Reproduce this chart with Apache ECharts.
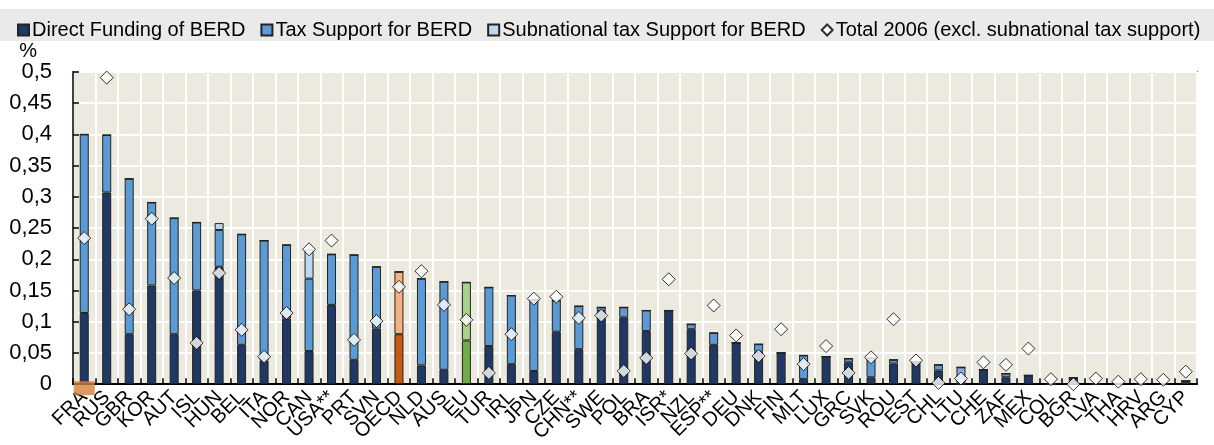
<!DOCTYPE html>
<html>
<head>
<meta charset="utf-8">
<script src="https://cdn.jsdelivr.net/npm/echarts@6/dist/echarts.min.js"></script>
<style>
html, body { margin: 0; padding: 0; background: #fff; }
#chart { width: 1214px; height: 445px; }
</style>
</head>
<body>
<div id="chart"></div>
<script>
var countries = ['FRA','RUS','GBR','KOR','AUT','ISL','HUN','BEL','ITA','NOR','CAN','USA**','PRT','SVN','OECD','NLD','AUS','EU','TUR','IRL','JPN','CZE','CHN**','SWE','POL','BRA','ISR*','NZL','ESP**','DEU','DNK','FIN','MLT','LUX','GRC','SVK','ROU','EST','CHL','LTU','CHE','ZAF','MEX','COL','BGR','LVA','THA','HRV','ARG','CYP'];

var directFunding = [0.114,0.307,0.080,0.158,0.080,0.150,0.188,0.063,0.038,0.105,0.053,0.127,0.039,0.089,0.080,0.030,0.023,0.070,0.061,0.032,0.021,0.084,0.056,0.117,0.107,0.085,0.118,0.088,0.063,0.066,0.052,0.050,0.008,0.044,0.035,0.011,0.033,0.036,0.022,0,0.023,0.011,0.014,0,0.010,0,0,0,0,0.005];

var taxSupport = [0.286,0.092,0.249,0.133,0.186,0.109,0.059,0.177,0.192,0.118,0.116,0.081,0.168,0.099,0.100,0.139,0.141,0.093,0.094,0.110,0.114,0.050,0.069,0.006,0.016,0.033,0,0.008,0.019,0,0.012,0,0.038,0,0.006,0.031,0.006,0,0.009,0.027,0,0.006,0,0,0,0,0,0,0,0];

var subnationalTax = [0,0,0,0,0,0,0.011,0,0,0,0.047,0,0,0,0,0,0,0,0,0,0,0,0,0,0,0,0,0,0,0,0,0,0,0,0,0,0,0,0,0,0,0,0,0,0,0,0,0,0,0];

var total2006 = [0.234,0.491,0.120,0.265,0.170,0.066,0.178,0.087,0.044,0.114,0.216,0.230,0.071,0.101,0.156,0.181,0.127,0.103,0.018,0.080,0.137,0.140,0.106,0.110,0.021,0.042,0.168,0.049,0.126,0.078,0.045,0.088,0.032,0.061,0.018,0.043,0.104,0.038,0.002,0.009,0.035,0.031,0.057,0.008,0.000,0.009,0.004,0.008,0.007,0.020];

var yTicks = [0,0.05,0.1,0.15,0.2,0.25,0.3,0.35,0.4,0.45,0.5];

var seriesNames = ['Direct Funding of BERD','Tax Support for BERD','Subnational tax Support for BERD','Total 2006 (excl. subnational tax support)'];

// colours
var C_DIRECT = '#1F3864', C_TAX = '#5B9BD5', C_SUB = '#BDD7EE';
var highlight = {
	'OECD': { direct: '#C55A11', tax: '#F4B183' },
	'EU': { direct: '#70AD47', tax: '#A9D18E' },
	'LTU': { tax: '#8FAADC' }
};
var FONT = '"Liberation Sans Narrow", "Arial Narrow", "Liberation Sans", sans-serif';

function colored(values, key) {
	return values.map(function (v, i) {
		var h = highlight[countries[i]];
		if (h && h[key]) return { value: v, itemStyle: { color: h[key] } };
		return v;
	});
}

var myChart = echarts.init(document.getElementById('chart'));

var barBase = {
	type: 'bar',
	stack: 'berd',
	barWidth: 9,
	emphasis: { disabled: true }
};

var option = {
	animation: false,
	backgroundColor: '#fff',
	graphic: [{
		type: 'rect',
		left: 0, top: 9,
		shape: { width: 1214, height: 32 },
		style: { fill: '#EAEAEA' },
		z: -1
	}],
	legend: {
		data: [
			{ name: seriesNames[0], icon: 'rect' },
			{ name: seriesNames[1], icon: 'rect' },
			{ name: seriesNames[2], icon: 'rect' },
			{ name: seriesNames[3], icon: 'diamond' }
		],
		top: 15,
		left: 12,
		itemGap: 15,
		itemWidth: 11,
		itemHeight: 11,
		textStyle: { fontFamily: FONT, fontSize: 20, color: '#000', padding: [0, 0, 0, -2] }
	},
	grid: {
		left: 73, right: 17, top: 72, bottom: 58,
		show: true,
		backgroundColor: '#ECEADF',
		borderColor: '#000',
		borderWidth: 1.5
	},
	xAxis: {
		type: 'category',
		data: countries,
		axisLine: { lineStyle: { color: '#000', width: 2 } },
		axisTick: { show: true, inside: true, length: 6, lineStyle: { color: '#000', width: 1.5 } },
		splitLine: { show: true, lineStyle: { color: '#fff', width: 2 } },
		axisLabel: {
			rotate: 45, margin: 10, interval: 0,
			fontFamily: FONT, fontSize: 20, color: '#000'
		}
	},
	yAxis: {
		type: 'value',
		min: 0, max: 0.5, interval: 0.05,
		name: '%',
		nameLocation: 'end',
		nameGap: 10,
		nameTextStyle: { fontFamily: FONT, fontSize: 20, color: '#000', align: 'right', padding: [0, 36, 0, 0] },
		axisLine: { show: true, lineStyle: { color: '#000', width: 1.5 } },
		axisTick: { show: true, inside: true, length: 6, lineStyle: { color: '#000', width: 1.5 } },
		splitLine: { show: true, lineStyle: { color: '#fff', width: 2 } },
		axisLabel: {
			margin: 21,
			fontFamily: FONT, fontSize: 22, color: '#000',
			formatter: function (v) {
				var t = yTicks.find(function (x) { return Math.abs(x - v) < 1e-9; });
				return String(t === undefined ? v : t).replace('.', ',');
			}
		}
	},
	series: [
		Object.assign({}, barBase, {
			name: seriesNames[0],
			data: colored(directFunding, 'direct'),
			itemStyle: { color: C_DIRECT, borderColor: '#222', borderWidth: 1 }
		}),
		Object.assign({}, barBase, {
			name: seriesNames[1],
			data: colored(taxSupport, 'tax'),
			itemStyle: { color: C_TAX, borderColor: '#222', borderWidth: 1 }
		}),
		Object.assign({}, barBase, {
			name: seriesNames[2],
			data: subnationalTax,
			itemStyle: { color: C_SUB, borderColor: '#222', borderWidth: 1 }
		}),
		{
			name: seriesNames[3],
			type: 'scatter',
			data: total2006,
			symbol: 'diamond',
			symbolSize: 13,
			clip: false,
			z: 5,
			itemStyle: { color: '#fff', borderColor: '#000', borderWidth: 1 },
			emphasis: { disabled: true }
		},
		{
			name: 'France marker',
			type: 'scatter',
			data: [['FRA', 0]],
			symbol: 'rect',
			symbolSize: [21, 14],
			symbolOffset: [0, 4],
			clip: false,
			z: 6,
			itemStyle: { color: '#D67F3C' },
			emphasis: { disabled: true },
			tooltip: { show: false }
		}
	]
};

myChart.setOption(option);
</script>
</body>
</html>
